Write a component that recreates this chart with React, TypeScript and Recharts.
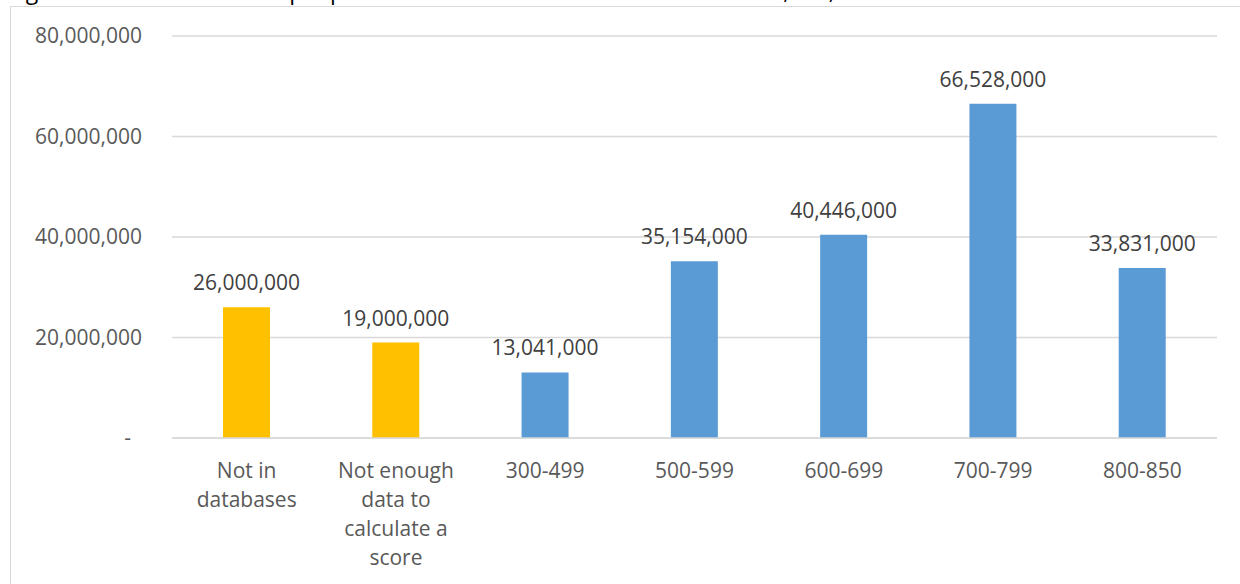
import { BarChart, Bar, XAxis, YAxis, CartesianGrid, Cell, LabelList } from "recharts";

const categories = [
  "Not in\ndatabases",
  "Not enough\ndata to\ncalculate a\nscore",
  "300-499",
  "500-599",
  "600-699",
  "700-799",
  "800-850",
];
const people = [26000000, 19000000, 13041000, 35154000, 40446000, 66528000, 33831000];
const unscored = [true, true, false, false, false, false, false];
const yTicks = [0, 20000000, 40000000, 60000000, 80000000];

const data = categories.map((name, i) => ({ name, value: people[i], unscored: unscored[i] }));

const FONT = "'Open Sans', 'Noto Sans', sans-serif";
const fmt = (v: number) => (v === 0 ? "-\u00A0\u00A0" : v.toLocaleString("en-US"));

function CategoryTick({ x, y, payload }: any) {
  const lines = String(payload.value).split("\n");
  return (
    <text x={x} y={y} textAnchor="middle" fill="#595959" fontSize={21} fontFamily={FONT}>
      {lines.map((line, i) => (
        <tspan key={i} x={x} dy={i === 0 ? 40 : 29}>
          {line}
        </tspan>
      ))}
    </text>
  );
}

export default function App() {
  return (
    <div
      style={{
        position: "fixed",
        left: 0,
        top: 0,
        width: 1240,
        height: 584,
        overflow: "hidden",
        background: "#fff",
      }}
    >
      {/* title sits mostly above the visible area */}
      <div
        style={{
          position: "absolute",
          left: 8,
          top: -21,
          fontSize: 23,
          lineHeight: 1,
          whiteSpace: "nowrap",
          fontFamily: FONT,
          color: "#000",
        }}
      >
        Figure 1: Number of adult people in each credit score band – total of 234,000,000
      </div>
      <div
        style={{
          position: "absolute",
          left: 10,
          top: 6,
          width: 1400,
          height: 800,
          border: "1px solid #d9d9d9",
        }}
      />
      <div style={{ position: "absolute", left: 0, top: 0 }}>
        <BarChart
          width={1240}
          height={584}
          data={data}
          margin={{ top: 36, right: 23, left: 0, bottom: 0 }}
          barSize={47}
        >
          <CartesianGrid vertical={false} stroke="#d9d9d9" strokeWidth={1.3} />
          <XAxis
            dataKey="name"
            height={146}
            interval={0}
            tickLine={false}
            axisLine={{ stroke: "#d9d9d9", strokeWidth: 1.3 }}
            tickSize={0}
            tickMargin={0}
            tick={<CategoryTick />}
          />
          <YAxis
            width={172}
            domain={[0, 80000000]}
            ticks={yTicks}
            tickFormatter={fmt}
            axisLine={false}
            tickLine={false}
            tickSize={0}
            tickMargin={30}
            tick={{ fill: "#595959", fontSize: 21, fontFamily: FONT }}
          />
          <Bar dataKey="value" isAnimationActive={false}>
            {data.map((d, i) => (
              <Cell key={i} fill={d.unscored ? "#ffc000" : "#5b9bd5"} />
            ))}
            <LabelList
              dataKey="value"
              position="top"
              offset={17}
              formatter={(v: any) => Number(v).toLocaleString("en-US")}
              fill="#404040"
              fontSize={21}
              fontFamily={FONT}
            />
          </Bar>
        </BarChart>
      </div>
    </div>
  );
}
